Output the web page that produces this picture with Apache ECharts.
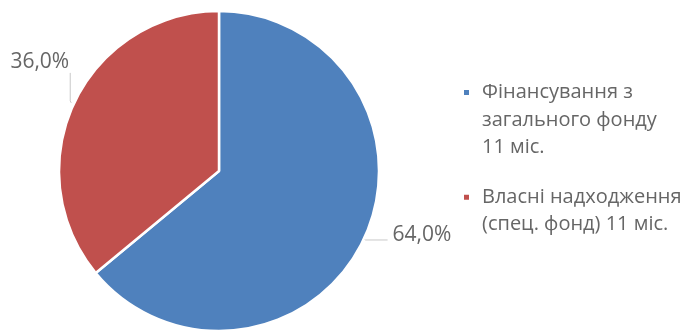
<!DOCTYPE html>
<html>
<head>
<meta charset="utf-8">
<script src="https://cdn.jsdelivr.net/npm/echarts@6/dist/echarts.min.js"></script>
<style>
  html, body { margin: 0; padding: 0; background: #fff; }
  #chart { width: 692px; height: 336px; }
</style>
</head>
<body>
<div id="chart"></div>
<script>
// дані
const categories = ['Фінансування з\nзагального фонду\n11 міс.', 'Власні надходження\n(спец. фонд) 11 міс.'];
const values = [64, 36];
const colors = ['#4F81BD', '#C0504D'];

const font = '"Open Sans", "Noto Sans", sans-serif';
const lh = 27.5;

// легенда: значок на рівні першого рядка тексту
const legendItem = (i, top) => ({
    orient: 'vertical',
    left: 462,
    top: top,
    padding: 0,
    icon: 'rect',
    itemWidth: 7,
    itemHeight: 7,
    selectedMode: false,
    data: [categories[i]],
    formatter: name => '\n'.repeat(name.split('\n').length - 1) + name,
    textStyle: {
        fontFamily: font,
        fontSize: 20,
        color: '#666',
        lineHeight: lh,
        padding: [0, 0, 0, 7]
    }
});

const chart = echarts.init(document.getElementById('chart'));
chart.setOption({
    animation: false,
    color: colors,
    legend: [legendItem(0, 23.75), legendItem(1, 156)],
    series: [
        {
            type: 'pie',
            center: [219, 171],
            radius: 160,
            startAngle: 90,
            clockwise: true,
            itemStyle: {
                borderColor: '#fff',
                borderWidth: 2.5
            },
            label: {
                show: true,
                position: 'outside',
                overflow: 'none',
                fontFamily: font,
                fontSize: 21,
                color: '#666',
                formatter: p => p.percent.toFixed(1).replace('.', ',') + '%'
            },
            labelLine: {
                show: true,
                length: 2,
                length2: 22,
                lineStyle: { color: '#c8c8c8', width: 1 }
            },
            labelLayout: p => {
                if (p.dataIndex !== 1) return { dy: -5 };
                const s = p.labelLinePoints[0];
                return {
                    x: s[0] - 5,
                    y: s[1] - 41,
                    align: 'right',
                    verticalAlign: 'middle',
                    labelLinePoints: [[s[0] - 3, s[1]], [s[0] - 4, s[1] - 2], [s[0] - 4, s[1] - 30]]
                };
            },
            emphasis: { disabled: true },
            data: categories.map((c, i) => ({ name: c, value: values[i] }))
        }
    ]
});
</script>
</body>
</html>
